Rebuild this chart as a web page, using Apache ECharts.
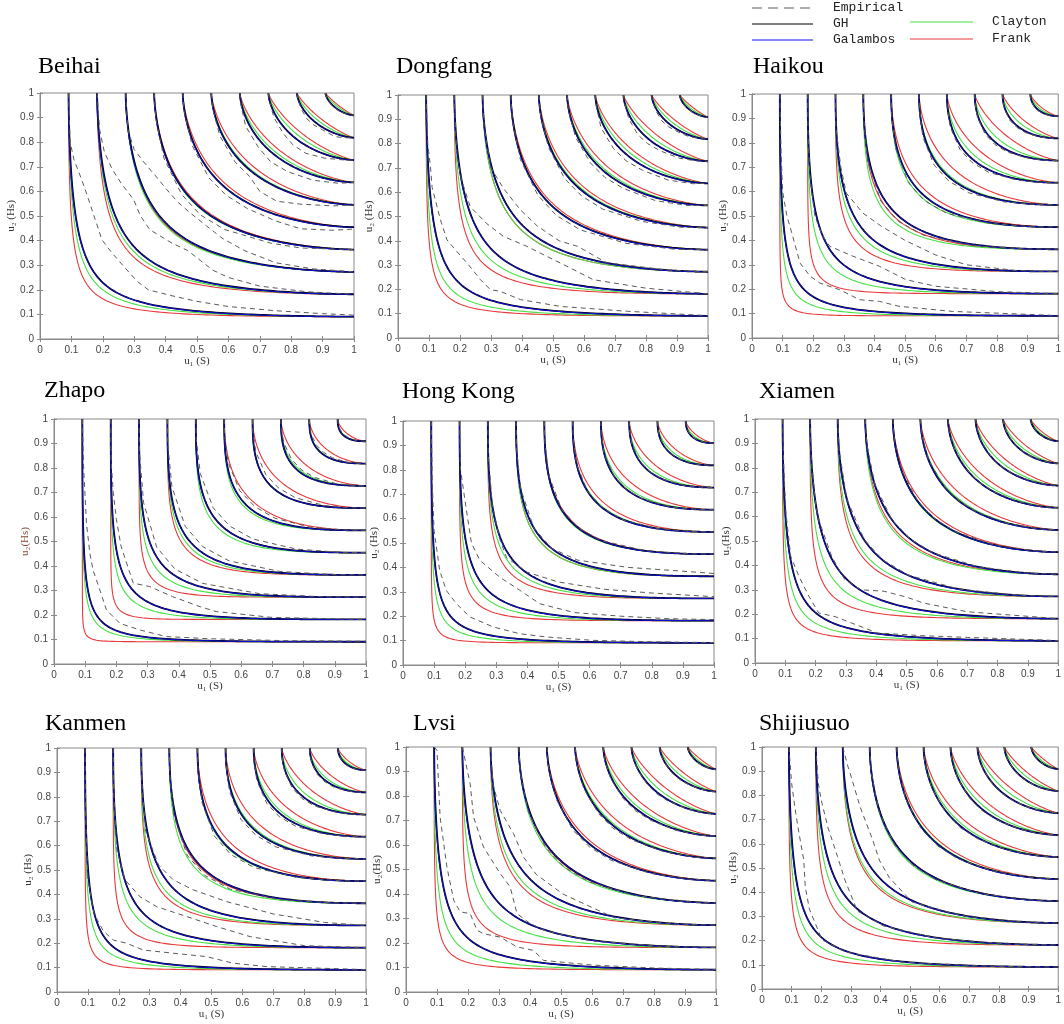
<!DOCTYPE html>
<html>
<head>
<meta charset="utf-8">
<script src="https://cdn.jsdelivr.net/npm/echarts@6/dist/echarts.min.js"></script>
<style>
html,body{margin:0;padding:0;background:#fff}
#chart{width:1064px;height:1024px}
</style>
</head>
<body>
<div id="chart"></div>
<script>
// Joint probability level curves C(u1,u2)=c of wave period S and wave height Hs, nine stations
const stations = ['Beihai', 'Dongfang', 'Haikou', 'Zhapo', 'Hong Kong', 'Xiamen', 'Kanmen', 'Lvsi', 'Shijiusuo'];
const yNames = ['u\u2082 (Hs)', 'u\u2082 (Hs)', 'u\u2082 (Hs)', 'u\u2082(Hs)', 'u\u2082 (Hs)', 'u\u2082(Hs)', 'u\u2082 (Hs)', 'u\u2082(Hs)', 'u\u2082 (Hs)'];
const xName = 'u\u2081 (S)';

// contour levels of the copula
const levels = [0.0909, 0.1818, 0.2727, 0.3636, 0.4545, 0.5455, 0.6364, 0.7273, 0.8182, 0.9091];

// extreme-value copula parameters per station
const ghTheta       = [1.57, 1.60, 2.00, 2.50, 2.20, 1.70, 2.00, 1.62, 1.65];
const galambosDelta = [0.856, 0.888, 1.296, 1.800, 1.499, 0.990, 1.296, 0.908, 0.940];

// Archimedean fits: point where each level curve crosses the diagonal u1 = u2
const claytonKnee = [
  [0.200, 0.325, 0.428, 0.520, 0.603, 0.680, 0.755, 0.825, 0.887, 0.946],
  [0.185, 0.310, 0.420, 0.520, 0.603, 0.680, 0.755, 0.823, 0.886, 0.945],
  [0.160, 0.275, 0.385, 0.470, 0.565, 0.655, 0.737, 0.810, 0.878, 0.940],
  [0.150, 0.255, 0.355, 0.455, 0.540, 0.625, 0.710, 0.790, 0.860, 0.932],
  [0.155, 0.270, 0.375, 0.470, 0.560, 0.645, 0.725, 0.800, 0.870, 0.937],
  [0.180, 0.295, 0.400, 0.495, 0.590, 0.672, 0.748, 0.818, 0.882, 0.942],
  [0.165, 0.280, 0.380, 0.475, 0.570, 0.655, 0.733, 0.808, 0.874, 0.939],
  [0.180, 0.300, 0.410, 0.510, 0.598, 0.678, 0.752, 0.822, 0.885, 0.944],
  [0.185, 0.305, 0.410, 0.510, 0.598, 0.678, 0.752, 0.822, 0.885, 0.944]
];
const frankKnee = [
  [0.180, 0.315, 0.430, 0.525, 0.610, 0.690, 0.765, 0.835, 0.895, 0.950],
  [0.165, 0.290, 0.420, 0.525, 0.610, 0.690, 0.765, 0.835, 0.895, 0.950],
  [0.125, 0.235, 0.365, 0.480, 0.585, 0.675, 0.755, 0.830, 0.890, 0.945],
  [0.110, 0.215, 0.330, 0.445, 0.550, 0.650, 0.735, 0.810, 0.875, 0.940],
  [0.125, 0.245, 0.360, 0.470, 0.565, 0.655, 0.740, 0.815, 0.880, 0.943],
  [0.155, 0.265, 0.390, 0.500, 0.600, 0.685, 0.760, 0.830, 0.892, 0.947],
  [0.135, 0.245, 0.370, 0.485, 0.585, 0.670, 0.750, 0.825, 0.887, 0.945],
  [0.150, 0.260, 0.400, 0.515, 0.605, 0.690, 0.765, 0.835, 0.895, 0.950],
  [0.160, 0.280, 0.405, 0.515, 0.605, 0.690, 0.765, 0.835, 0.895, 0.950]
];

// empirical copula level curves, one flat [u1,u2,...] list per level
const empBeihai = [
  [.0909,1,.096,.80,.108,.73,.135,.64,.154,.57,.176,.485,.197,.404,.229,.35,.266,.296,.309,.235,.345,.20,.426,.174,.50,.153,.60,.132,.75,.115,.90,.103,1,.097],
  [.1818,1,.19,.85,.205,.76,.23,.69,.26,.63,.298,.567,.32,.50,.35,.444,.42,.39,.47,.36,.51,.32,.55,.28,.60,.25,.70,.215,.85,.192,1,.182],
  [.2727,1,.28,.85,.30,.77,.33,.72,.37,.66,.404,.607,.44,.555,.478,.513,.531,.459,.58,.41,.65,.36,.75,.31,.87,.285,1,.273],
  [.3636,1,.369,.895,.395,.734,.451,.588,.510,.505,.588,.445,.734,.39,.83,.37,.93,.366,1,.3636],
  [.4545,1,.460,.917,.485,.786,.538,.655,.592,.585,.661,.53,.75,.48,.83,.448,.934,.442,1,.447],
  [.5455,1,.55,.935,.573,.825,.621,.72,.668,.66,.70,.60,.754,.56,.831,.548,.934,.541,1,.545],
  [.6364,1,.64,.951,.655,.865,.695,.78,.735,.72,.789,.68,.871,.645,.951,.633,1,.6364],
  [.7273,1,.731,.966,.745,.90,.775,.835,.805,.79,.846,.755,.907,.735,.966,.728,1,.7273],
  [.8182,1,.82,.978,.832,.935,.85,.895,.872,.87,.90,.85,.94,.822,.978,.818,1,.8182],
  [.9091,1,.910,.990,.916,.971,.928,.951,.939,.939,.951,.928,.971,.916,.990,.910,1,.9091]
];
const empDongfang = [
  [.0909,1,.096,.80,.105,.70,.11,.62,.137,.486,.158,.404,.185,.363,.223,.308,.266,.24,.298,.199,.33,.192,.395,.158,.524,.13,.74,.11,1,.092],
  [.1818,1,.186,.85,.19,.75,.205,.65,.233,.54,.287,.47,.34,.418,.416,.377,.48,.336,.545,.295,.63,.24,.80,.205,1,.182],
  [.2727,1,.278,.867,.30,.70,.34,.616,.395,.527,.45,.46,.52,.40,.58,.377,.672,.31,.867,.28,1,.2727],
  [.3636,1,.369,.895,.395,.734,.451,.588,.510,.505,.588,.445,.734,.39,.895,.365,1,.3636],
  [.4545,1,.460,.917,.485,.786,.538,.655,.592,.585,.661,.53,.786,.48,.917,.455,1,.4545],
  [.5455,1,.55,.935,.573,.825,.621,.72,.668,.66,.728,.615,.831,.565,.935,.545,1,.5455],
  [.6364,1,.64,.951,.655,.865,.695,.78,.735,.73,.789,.69,.871,.65,.951,.635,1,.6364],
  [.7273,1,.731,.966,.745,.90,.775,.835,.805,.80,.846,.77,.907,.74,.966,.728,1,.7273],
  [.8182,1,.82,.978,.832,.935,.85,.895,.872,.87,.90,.85,.94,.828,.978,.82,1,.8182],
  [.9091,1,.910,.990,.916,.971,.928,.951,.939,.939,.951,.928,.971,.916,.990,.910,1,.9091]
];
const empHaikou = [
  [.0909,1,.095,.76,.10,.60,.114,.50,.13,.43,.157,.307,.19,.253,.222,.225,.286,.198,.351,.157,.416,.15,.48,.13,.654,.109,1,.092],
  [.1818,1,.183,.828,.19,.65,.205,.50,.23,.42,.254,.376,.33,.335,.416,.294,.503,.239,.60,.212,.80,.19,1,.182],
  [.2727,1,.274,.866,.29,.70,.308,.594,.362,.512,.42,.46,.50,.40,.60,.34,.70,.30,.866,.276,1,.2727],
  [.3636,1,.365,.894,.378,.723,.421,.561,.478,.478,.561,.421,.723,.378,.894,.365,1,.3636],
  [.4545,1,.456,.917,.469,.777,.510,.638,.563,.563,.638,.510,.777,.469,.917,.456,1,.4545],
  [.5455,1,.547,.935,.558,.823,.595,.708,.643,.643,.708,.595,.823,.558,.935,.547,1,.5455],
  [.6364,1,.637,.951,.647,.865,.679,.773,.719,.719,.773,.679,.865,.647,.951,.637,1,.6364],
  [.7273,1,.728,.965,.7365,.903,.762,.834,.793,.793,.834,.762,.903,.7365,.965,.728,1,.7273],
  [.8182,1,.819,.978,.824,.938,.842,.892,.864,.864,.892,.842,.938,.824,.978,.819,1,.8182],
  [.9091,1,.9094,.990,.912,.970,.922,.947,.933,.933,.947,.922,.970,.912,.990,.9094,1,.9091]
];
const empZhapo = [
  [.0909,1,.095,.80,.104,.575,.115,.452,.125,.384,.147,.302,.168,.221,.211,.166,.275,.139,.36,.112,.50,.103,.75,.095,1,.093],
  [.1818,1,.183,.828,.19,.70,.20,.59,.215,.48,.254,.33,.307,.316,.38,.275,.468,.234,.52,.214,.70,.19,1,.182],
  [.2727,1,.274,.866,.287,.659,.329,.477,.3875,.3875,.477,.329,.659,.287,.866,.274,1,.2727],
  [.3636,1,.365,.894,.378,.723,.421,.561,.478,.478,.561,.421,.723,.378,.894,.365,1,.3636],
  [.4545,1,.456,.917,.469,.777,.510,.638,.563,.563,.638,.510,.777,.469,.917,.456,1,.4545],
  [.5455,1,.547,.935,.558,.823,.595,.708,.643,.643,.708,.595,.823,.558,.935,.547,1,.5455],
  [.6364,1,.637,.951,.647,.865,.679,.773,.719,.719,.773,.679,.865,.647,.951,.637,1,.6364],
  [.7273,1,.728,.965,.7365,.903,.762,.834,.793,.793,.834,.762,.903,.7365,.965,.728,1,.7273],
  [.8182,1,.819,.978,.824,.938,.842,.892,.864,.864,.892,.842,.938,.824,.978,.819,1,.8182],
  [.9091,1,.9094,.990,.912,.970,.922,.947,.933,.933,.947,.922,.970,.912,.990,.9094,1,.9091]
];
const empHongKong = [
  [.0909,1,.094,.75,.10,.55,.118,.388,.139,.306,.172,.251,.215,.197,.29,.156,.376,.128,.46,.115,.61,.101,.80,.095,1,.092],
  [.1818,1,.185,.80,.204,.634,.22,.50,.247,.429,.311,.36,.376,.306,.44,.251,.55,.215,.70,.20,.85,.19,1,.186],
  [.2727,1,.274,.866,.287,.659,.31,.52,.333,.44,.40,.38,.50,.34,.65,.31,.80,.295,1,.28],
  [.3636,1,.365,.894,.378,.723,.421,.561,.478,.478,.561,.43,.723,.40,.894,.385,1,.375],
  [.4545,1,.456,.917,.469,.777,.510,.638,.563,.563,.638,.510,.777,.469,.917,.456,1,.4545],
  [.5455,1,.547,.935,.558,.823,.595,.708,.643,.643,.708,.595,.823,.558,.935,.547,1,.5455],
  [.6364,1,.637,.951,.647,.865,.679,.773,.719,.719,.773,.679,.865,.647,.951,.637,1,.6364],
  [.7273,1,.728,.965,.7365,.903,.762,.834,.793,.793,.834,.762,.903,.7365,.965,.728,1,.7273],
  [.8182,1,.819,.978,.824,.938,.842,.892,.864,.864,.892,.842,.938,.824,.978,.819,1,.8182],
  [.9091,1,.9094,.990,.912,.970,.922,.947,.933,.933,.947,.922,.970,.912,.990,.9094,1,.9091]
];
const empXiamen = [
  [.0909,1,.095,.80,.102,.615,.118,.437,.145,.355,.178,.273,.21,.205,.264,.19,.318,.164,.404,.123,.55,.112,.70,.105,1,.092],
  [.1818,1,.186,.829,.20,.65,.21,.587,.253,.437,.296,.342,.35,.30,.426,.294,.50,.27,.555,.246,.70,.21,1,.182],
  [.2727,1,.278,.867,.303,.672,.360,.506,.422,.422,.506,.360,.672,.303,.867,.278,1,.2727],
  [.3636,1,.369,.895,.395,.734,.451,.588,.510,.510,.588,.451,.734,.395,.895,.369,1,.3636],
  [.4545,1,.460,.917,.485,.786,.538,.661,.592,.592,.661,.538,.786,.485,.917,.460,1,.4545],
  [.5455,1,.550,.935,.573,.831,.621,.728,.668,.668,.728,.621,.831,.573,.935,.550,1,.5455],
  [.6364,1,.640,.951,.660,.871,.701,.789,.740,.740,.789,.701,.871,.660,.951,.640,1,.6364],
  [.7273,1,.731,.966,.747,.907,.779,.846,.809,.809,.846,.779,.907,.747,.966,.731,1,.7273],
  [.8182,1,.820,.978,.832,.940,.854,.900,.875,.875,.900,.854,.940,.832,.978,.820,1,.8182],
  [.9091,1,.910,.990,.916,.971,.928,.951,.939,.939,.951,.928,.971,.916,.990,.910,1,.9091]
];
const empKanmen = [
  [.0909,1,.0917,.767,.0996,.464,.12,.32,.15,.25,.182,.213,.225,.20,.279,.172,.376,.159,.484,.145,.57,.118,.68,.104,1,.092],
  [.1818,1,.183,.828,.194,.579,.22,.46,.268,.391,.322,.35,.42,.309,.517,.268,.625,.227,.80,.19,1,.182],
  [.2727,1,.274,.866,.287,.659,.329,.52,.376,.46,.44,.419,.55,.37,.70,.32,.866,.285,1,.2727],
  [.3636,1,.365,.894,.378,.723,.421,.561,.478,.478,.561,.421,.723,.378,.894,.365,1,.3636],
  [.4545,1,.456,.917,.469,.777,.510,.638,.563,.563,.638,.510,.777,.469,.917,.456,1,.4545],
  [.5455,1,.547,.935,.558,.823,.595,.708,.643,.643,.708,.595,.823,.558,.935,.547,1,.5455],
  [.6364,1,.637,.951,.647,.865,.679,.773,.719,.719,.773,.679,.865,.647,.951,.637,1,.6364],
  [.7273,1,.728,.965,.7365,.903,.762,.834,.793,.793,.834,.762,.903,.7365,.965,.728,1,.7273],
  [.8182,1,.819,.978,.824,.938,.842,.892,.864,.864,.892,.842,.938,.824,.978,.819,1,.8182],
  [.9091,1,.9094,.990,.912,.970,.922,.947,.933,.933,.947,.922,.970,.912,.990,.9094,1,.9091]
];
const empLvsi = [
  [.0909,1,.10,.986,.11,.714,.132,.51,.154,.374,.175,.327,.207,.32,.229,.252,.25,.238,.304,.224,.358,.184,.411,.17,.444,.129,.60,.11,.80,.098,1,.092],
  [.1818,1,.207,.85,.218,.714,.25,.592,.304,.483,.336,.429,.358,.32,.40,.28,.45,.25,.594,.209,.829,.186,1,.1818],
  [.2727,1,.28,.85,.304,.741,.347,.646,.379,.551,.42,.48,.506,.40,.672,.303,.867,.278,1,.2727],
  [.3636,1,.369,.895,.395,.734,.451,.588,.510,.510,.588,.451,.734,.395,.895,.369,1,.3636],
  [.4545,1,.460,.917,.485,.786,.538,.661,.592,.592,.661,.538,.786,.485,.917,.460,1,.4545],
  [.5455,1,.550,.935,.573,.831,.621,.728,.668,.668,.728,.621,.831,.573,.935,.550,1,.5455],
  [.6364,1,.640,.951,.660,.871,.701,.789,.740,.740,.789,.701,.871,.660,.951,.640,1,.6364],
  [.7273,1,.731,.966,.747,.907,.779,.846,.809,.809,.846,.779,.907,.747,.966,.731,1,.7273],
  [.8182,1,.820,.978,.832,.940,.854,.900,.875,.875,.900,.854,.940,.832,.978,.820,1,.8182],
  [.9091,1,.910,.990,.916,.971,.928,.951,.939,.939,.951,.928,.971,.916,.990,.910,1,.9091]
];
const empShijiusuo = [
  [.0909,1,.10,.85,.114,.725,.125,.643,.141,.533,.146,.423,.16,.33,.203,.203,.284,.152,.48,.11,.768,.094,1,.0909],
  [.1818,1,.19,.85,.20,.78,.222,.67,.255,.547,.28,.45,.322,.322,.409,.261,.594,.209,.829,.186,1,.1818],
  [.2727,1,.29,.92,.298,.89,.331,.753,.374,.615,.396,.533,.43,.46,.506,.36,.672,.303,.867,.278,1,.2727],
  [.3636,1,.369,.895,.395,.734,.451,.588,.510,.510,.588,.451,.734,.395,.895,.369,1,.3636],
  [.4545,1,.460,.917,.485,.786,.538,.661,.592,.592,.661,.538,.786,.485,.917,.460,1,.4545],
  [.5455,1,.550,.935,.573,.831,.621,.728,.668,.668,.728,.621,.831,.573,.935,.550,1,.5455],
  [.6364,1,.640,.951,.660,.871,.701,.789,.740,.740,.789,.701,.871,.660,.951,.640,1,.6364],
  [.7273,1,.731,.966,.747,.907,.779,.846,.809,.809,.846,.779,.907,.747,.966,.731,1,.7273],
  [.8182,1,.820,.978,.832,.940,.854,.900,.875,.875,.900,.854,.940,.832,.978,.820,1,.8182],
  [.9091,1,.910,.990,.916,.971,.928,.951,.939,.939,.951,.928,.971,.916,.990,.910,1,.9091]
];
const empirical = [empBeihai, empDongfang, empHaikou, empZhapo, empHongKong, empXiamen, empKanmen, empLvsi, empShijiusuo];

// panel layout: plot box [left, top, width, height] and title anchor [x, centre y]
const boxes = [[40,93,314,246],[398,95,310,243],[752,94,308,244],[54,419,312,245],[403,421,311,244],[755,419,309,244],[57,748,309,244],[406,747,310,245],[762,747,307,242]];
const titleAt = [[38,68],[396,68],[753,68],[44,392],[402,393],[759,393],[45,725],[413,725],[759,725]];

const COLORS = { emp: '#5a5a5a', gh: '#000000', gal: '#1010f0', clay: '#45e045', frank: '#e8383a' };

// Pickands dependence functions
const ghA  = th => t => Math.pow(Math.pow(t, th) + Math.pow(1 - t, th), 1 / th);
const galA = d  => t => 1 - Math.pow(Math.pow(t, -d) + Math.pow(1 - t, -d), -1 / d);

// level curve s*A(t) = -ln c, with u = exp(-s(1-t)), v = exp(-s t)
function evCurve(A, c, n) {
  const L = -Math.log(c), out = [];
  for (let i = 0; i <= n; i++) {
    const t = (1 - Math.cos(Math.PI * i / n)) / 2;
    const s = L / A(t);
    out.push([Math.exp(-s * (1 - t)), Math.exp(-s * t)]);
  }
  return out;
}

// smooth level curve from (c,1) through the diagonal point (d,d) to (1,c)
function kneeCurve(c, d, n) {
  const r = Math.log(c) / Math.log(d);
  const th = Math.max(1.0, Math.LN2 / Math.log(r));
  return evCurve(ghA(th), c, n);
}

const toPairs = flat => { const r = []; for (let i = 0; i < flat.length; i += 2) r.push([flat[i], flat[i + 1]]); return r; };
const fmtTick = v => { const r = Math.round(v * 10) / 10; return r === 0 ? '0' : r === 1 ? '1' : r.toFixed(1); };

const grid = [], xAxis = [], yAxis = [], series = [], title = [];
const axisGray = '#8a8a8a';
const tickLabel = { fontSize: 10, color: '#444', fontFamily: 'Liberation Sans, Arial, sans-serif', showMinLabel: true, showMaxLabel: true };

stations.forEach((name, i) => {
  const b = boxes[i];
  grid.push({ left: b[0], top: b[1], width: b[2], height: b[3], show: true, borderColor: axisGray, borderWidth: 1, backgroundColor: '#fff' });
  title.push({ text: name, left: titleAt[i][0], top: titleAt[i][1] - 13, padding: 0,
    textStyle: { fontFamily: 'Liberation Serif, Times New Roman, serif', fontSize: 24, fontWeight: 'normal', color: '#000' } });

  const base = { gridIndex: i, type: 'value', min: 0, max: 1, interval: 0.1, splitLine: { show: false } };
  const line = { show: true, lineStyle: { color: axisGray } };
  const tick = { inside: true, length: 3, lineStyle: { color: axisGray } };
  xAxis.push(Object.assign({}, base, {
    position: 'bottom', axisLine: line, axisTick: tick,
    axisLabel: Object.assign({ margin: 6, formatter: fmtTick }, tickLabel),
    name: xName, nameLocation: 'middle', nameGap: 17,
    nameTextStyle: { fontFamily: 'Liberation Serif, serif', fontSize: 11, color: '#333' }
  }));
  xAxis.push(Object.assign({}, base, { position: 'top', axisLine: line, axisTick: tick, axisLabel: { show: false } }));
  yAxis.push(Object.assign({}, base, {
    position: 'left', axisLine: line, axisTick: tick,
    axisLabel: Object.assign({ margin: 6, formatter: fmtTick }, tickLabel),
    name: yNames[i], nameLocation: 'middle', nameGap: 22, nameRotate: 90,
    nameTextStyle: { fontFamily: 'Liberation Serif, serif', fontSize: 11, color: i === 3 ? '#8a4a3c' : '#333' }
  }));
  yAxis.push(Object.assign({}, base, { position: 'right', axisLine: line, axisTick: tick, axisLabel: { show: false } }));

  const xi = 2 * i, yi = 2 * i;
  const linesSeries = (label, curves, style, z) => ({
    type: 'lines', name: label, coordinateSystem: 'cartesian2d', polyline: true,
    xAxisIndex: xi, yAxisIndex: yi, silent: true, animation: false, z: z,
    lineStyle: Object.assign({ opacity: 1, curveness: 0 }, style),
    data: curves.map(c => ({ coords: c }))
  });

  series.push(linesSeries('Frank', levels.map((c, k) => kneeCurve(c, frankKnee[i][k], 160)), { color: COLORS.frank, width: 1.1 }, 2));
  series.push(linesSeries('Clayton', levels.map((c, k) => kneeCurve(c, claytonKnee[i][k], 160)), { color: COLORS.clay, width: 1.1 }, 3));
  series.push(linesSeries('GH', levels.map(c => evCurve(ghA(ghTheta[i]), c, 160)), { color: COLORS.gh, width: 1.8 }, 4));
  series.push(linesSeries('Galambos', levels.map(c => evCurve(galA(galambosDelta[i]), c, 160)), { color: COLORS.gal, width: 1.0 }, 5));
  series.push(linesSeries('Empirical', empirical[i].map(toPairs), { color: COLORS.emp, width: 1, type: [5, 4] }, 6));
});

// legend block in the upper right corner
const legendFont = '13px "Liberation Mono", "DejaVu Sans Mono", monospace';
const legendItems = [
  { name: 'Empirical', color: COLORS.emp, dash: [10, 6], x1: 752, x2: 813, tx: 833, y: 8 },
  { name: 'GH', color: COLORS.gh, dash: null, x1: 752, x2: 813, tx: 833, y: 24 },
  { name: 'Galambos', color: COLORS.gal, dash: null, x1: 752, x2: 813, tx: 833, y: 40 },
  { name: 'Clayton', color: COLORS.clay, dash: null, x1: 910, x2: 973, tx: 992, y: 22 },
  { name: 'Frank', color: COLORS.frank, dash: null, x1: 910, x2: 973, tx: 992, y: 39 }
];
const graphic = [];
legendItems.forEach(it => {
  graphic.push({ type: 'line', shape: { x1: it.x1, y1: it.y, x2: it.x2, y2: it.y }, style: { stroke: it.color, lineWidth: 1, lineDash: it.dash }, silent: true, z: 10 });
  graphic.push({ type: 'text', x: it.tx, y: it.y, style: { text: it.name, font: legendFont, fill: '#222', textVerticalAlign: 'middle' }, silent: true, z: 10 });
});

const chart = echarts.init(document.getElementById('chart'), null, { renderer: 'canvas' });
chart.setOption({ animation: false, backgroundColor: '#fff', title, grid, xAxis, yAxis, series, graphic });
</script>
</body>
</html>
